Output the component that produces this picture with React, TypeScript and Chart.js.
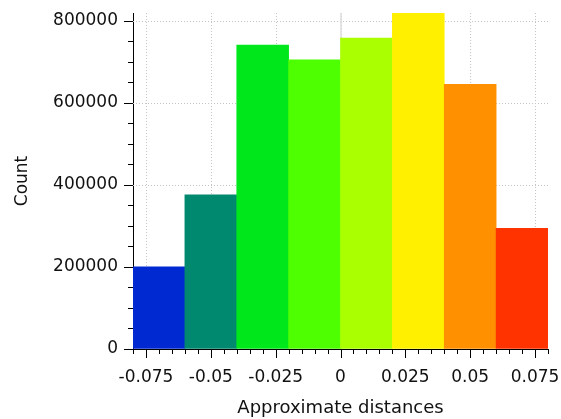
import { useEffect, useRef } from "react";
import { Chart, registerables } from "chart.js";

Chart.register(...registerables);

// ---- data ----
const binCenters = [-0.07, -0.05, -0.03, -0.01, 0.01, 0.03, 0.05, 0.07];
const counts = [200000, 376000, 741000, 705000, 758000, 819000, 645000, 294000];
const barColors = [
  "#0029D2",
  "#00896F",
  "#00E81B",
  "#4DFF00",
  "#AAFF00",
  "#FFF000",
  "#FF9100",
  "#FF3300",
];
const xTickValues = [-0.075, -0.05, -0.025, 0, 0.025, 0.05, 0.075];
const xTickLabels = ["-0.075", "-0.05", "-0.025", "0", "0.025", "0.05", "0.075"];
const yTickValues = [0, 200000, 400000, 600000, 800000];
const yTickLabels = ["0", "200000", "400000", "600000", "800000"];
const xMin = -0.08;
const xMax = 0.08;
const yMin = 0;
const yMax = 819000;
const xMinorStep = 0.005;
const yMinorStep = 50000;

const FONT = "'DejaVu Sans', sans-serif";

const gridPlugin = {
  id: "customGrid",
  beforeDatasetsDraw(chart: any) {
    const { ctx, chartArea } = chart;
    const xs = chart.scales.x;
    const ys = chart.scales.y;
    ctx.save();
    ctx.strokeStyle = "#c4c4c4";
    ctx.lineWidth = 1;
    ctx.setLineDash([1, 2]);
    for (const v of xTickValues) {
      const px = Math.round(xs.getPixelForValue(v)) + 0.5;
      ctx.beginPath();
      ctx.moveTo(px, chartArea.top);
      ctx.lineTo(px, chartArea.bottom);
      ctx.stroke();
    }
    for (const v of yTickValues) {
      if (v === 0) continue;
      const py = Math.round(ys.getPixelForValue(v)) + 0.5;
      ctx.beginPath();
      ctx.moveTo(chartArea.left, py);
      ctx.lineTo(chartArea.right, py);
      ctx.stroke();
    }
    ctx.setLineDash([]);
    ctx.strokeStyle = "#dcdcdc";
    ctx.lineWidth = 1.5;
    const p0 = Math.round(xs.getPixelForValue(0));
    ctx.beginPath();
    ctx.moveTo(p0, chartArea.top);
    ctx.lineTo(p0, chartArea.bottom);
    ctx.stroke();
    ctx.restore();
  },
  afterDraw(chart: any) {
    const { ctx, chartArea } = chart;
    const xs = chart.scales.x;
    const ys = chart.scales.y;
    ctx.save();
    ctx.strokeStyle = "#000";
    ctx.lineWidth = 1;
    const nx = Math.round((xMax - xMin) / xMinorStep);
    for (let i = 0; i <= nx; i++) {
      const v = xMin + i * xMinorStep;
      const isMajor = xTickValues.some((t) => Math.abs(t - v) < 1e-9);
      const px = Math.round(xs.getPixelForValue(v)) + 0.5;
      ctx.beginPath();
      ctx.moveTo(px, chartArea.bottom);
      ctx.lineTo(px, chartArea.bottom + (isMajor ? 9 : 5));
      ctx.stroke();
    }
    const ny = Math.floor((yMax - yMin) / yMinorStep);
    for (let i = 0; i <= ny; i++) {
      const v = yMin + i * yMinorStep;
      const isMajor = yTickValues.includes(v);
      const py = Math.round(ys.getPixelForValue(v)) + 0.5;
      ctx.beginPath();
      ctx.moveTo(chartArea.left, py);
      ctx.lineTo(chartArea.left - (isMajor ? 9 : 5), py);
      ctx.stroke();
    }
    ctx.restore();
  },
};

export default function App() {
  const ref = useRef<HTMLCanvasElement | null>(null);
  useEffect(() => {
    if (!ref.current) return;
    const chart = new Chart(ref.current, {
      type: "bar",
      data: {
        datasets: [
          {
            data: binCenters.map((x, i) => ({ x, y: counts[i] })),
            backgroundColor: barColors,
            borderWidth: 0,
            barPercentage: 1,
            categoryPercentage: 1,
          },
        ],
      },
      plugins: [gridPlugin],
      options: {
        responsive: false,
        animation: false,
        layout: { padding: { top: 13, right: 13, left: 0, bottom: 0 } },
        plugins: { legend: { display: false }, tooltip: { enabled: false } },
        scales: {
          x: {
            type: "linear",
            offset: false,
            min: xMin,
            max: xMax,
            afterBuildTicks: (s: any) => {
              s.ticks = xTickValues.map((value) => ({ value }));
            },
            afterFit: (s: any) => {
              s.height = 70;
              s.paddingLeft = 0;
              s.paddingRight = 0;
            },
            grid: { display: true, color: "transparent", drawTicks: false, offset: false },
            border: { display: true, color: "#000", width: 1 },
            ticks: {
              autoSkip: false,
              maxRotation: 0,
              padding: 18,
              color: "#111",
              font: { family: FONT, size: 17 },
              callback: (_v: any, i: number) => xTickLabels[i],
            },
            title: {
              display: true,
              text: "Approximate distances",
              color: "#111",
              font: { family: FONT, size: 18 },
              padding: { top: 0, bottom: 0 },
            },
          },
          y: {
            type: "linear",
            min: yMin,
            max: yMax,
            afterBuildTicks: (s: any) => {
              s.ticks = yTickValues.map((value) => ({ value }));
            },
            afterFit: (s: any) => {
              s.width = 133;
              s.paddingTop = 0;
              s.paddingBottom = 0;
            },
            grid: { display: true, color: "transparent", drawTicks: false },
            border: { display: true, color: "#000", width: 1 },
            ticks: {
              autoSkip: false,
              padding: 15,
              color: "#111",
              font: { family: FONT, size: 17 },
              callback: (_v: any, i: number) => yTickLabels[i],
            },
            title: {
              display: true,
              text: "Count",
              color: "#111",
              font: { family: FONT, size: 17 },
              padding: { top: 12, bottom: 0 },
            },
          },
        },
      },
    });
    return () => chart.destroy();
  }, []);
  return (
    <div style={{ position: "fixed", left: 0, top: 0, width: 561, height: 419, background: "#fff" }}>
      <canvas ref={ref} width={561} height={419} style={{ display: "block" }} />
    </div>
  );
}
